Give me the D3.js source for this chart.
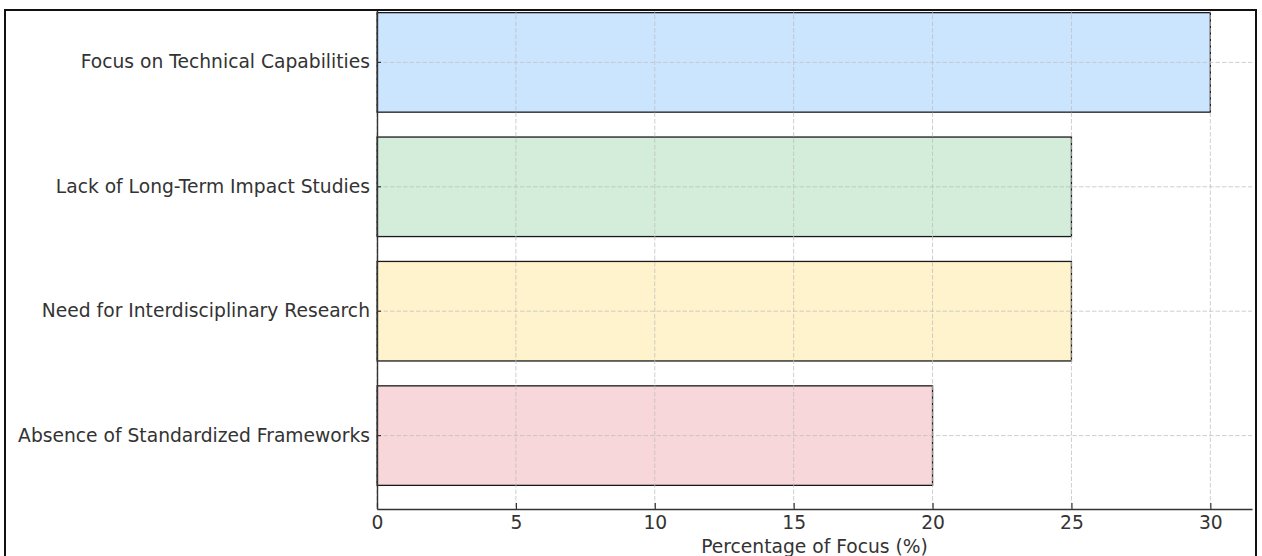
<!DOCTYPE html>
<html>
<head>
<meta charset="utf-8">
<script src="https://cdn.jsdelivr.net/npm/d3@7"></script>
<style>
  html, body { margin: 0; padding: 0; background: #fff; }
  svg { display: block; }
  text { font-family: "DejaVu Sans", sans-serif; }
</style>
</head>
<body>
<svg id="chart" width="1262" height="556"></svg>
<script>
const categories = [
  "Focus on Technical Capabilities",
  "Lack of Long-Term Impact Studies",
  "Need for Interdisciplinary Research",
  "Absence of Standardized Frameworks"
];
const values = [30, 25, 25, 20];
const colors = ["#cce5ff", "#d4edda", "#fff3cd", "#f8d7da"];
const xTicks = [0, 5, 10, 15, 20, 25, 30];
const xLabel = "Percentage of Focus (%)";

const svg = d3.select("#chart");
const pLeft = 377, pRight = 1252, pTop = -11, pBottom = 509;
const fs = 18.7;

const x = d3.scaleLinear().domain([0, 31.5]).range([pLeft, pRight]);
const y = d3.scaleBand().domain(categories).range([pTop, pBottom])
  .paddingInner(0.2).paddingOuter(0.19);

const g = svg.append("g");

// bars
g.selectAll("rect.bar").data(categories).enter().append("rect")
  .attr("class", "bar")
  .attr("x", x(0))
  .attr("y", d => y(d))
  .attr("width", (d, i) => x(values[i]) - x(0))
  .attr("height", y.bandwidth())
  .attr("fill", (d, i) => colors[i])
  .attr("stroke", "#1a1a1a")
  .attr("stroke-width", 1.3);

// grid on top
const grid = g.append("g").attr("stroke", "#bdbdbd").attr("stroke-opacity", 0.75)
  .attr("stroke-width", 1).attr("stroke-dasharray", "4.5,2");
grid.selectAll("line.v").data(xTicks).enter().append("line")
  .attr("x1", d => x(d)).attr("x2", d => x(d))
  .attr("y1", pTop).attr("y2", pBottom);
grid.selectAll("line.h").data(categories).enter().append("line")
  .attr("x1", pLeft).attr("x2", pRight)
  .attr("y1", d => y(d) + y.bandwidth() / 2).attr("y2", d => y(d) + y.bandwidth() / 2);

// x axis
const xAxis = d3.axisBottom(x).tickValues(xTicks).tickSizeInner(-6).tickSizeOuter(0).tickPadding(6.5);
const xg = g.append("g").attr("transform", `translate(0,${pBottom})`).call(xAxis);
xg.select(".domain").attr("stroke", "#333").attr("stroke-width", 1.4);
xg.selectAll(".tick line").attr("stroke", "#333").attr("stroke-width", 1.2);
xg.selectAll(".tick text").attr("font-size", fs).attr("fill", "#333")
  .attr("font-family", "DejaVu Sans, sans-serif");

// y axis
const yAxis = d3.axisLeft(y).tickSizeInner(-4).tickSizeOuter(0).tickPadding(7);
const yg = g.append("g").attr("transform", `translate(${pLeft},0)`).call(yAxis);
yg.select(".domain").attr("stroke", "#333").attr("stroke-width", 1.4);
yg.selectAll(".tick line").attr("stroke", "#333").attr("stroke-width", 1.2);
yg.selectAll(".tick text").attr("font-size", fs).attr("fill", "#333")
  .attr("font-family", "DejaVu Sans, sans-serif");

// x label
g.append("text")
  .attr("x", (pLeft + pRight) / 2)
  .attr("y", 553)
  .attr("text-anchor", "middle")
  .attr("font-size", fs)
  .attr("fill", "#333")
  .text(xLabel);

// white mask above frame
svg.append("rect").attr("x", 0).attr("y", 0).attr("width", 1262).attr("height", 10).attr("fill", "#fff");

// outer frame
svg.append("rect")
  .attr("x", 5).attr("y", 10).attr("width", 1251).attr("height", 600)
  .attr("fill", "none").attr("stroke", "#111").attr("stroke-width", 2);
</script>
</body>
</html>
